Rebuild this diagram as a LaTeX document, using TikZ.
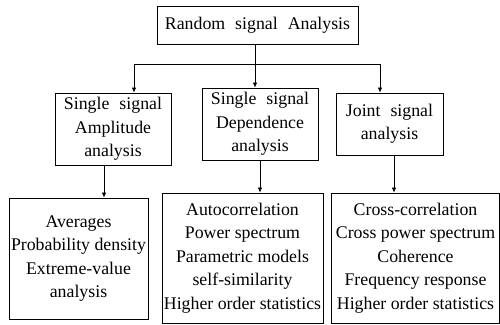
\documentclass[tikz,border=0pt]{standalone}
\usepackage{fontspec}
\setmainfont{Liberation Serif}
\usetikzlibrary{arrows.meta, calc}
\tikzset{
  tree/.style={x=1pt, y=1pt, line width=0.8pt,
               >={Latex[length=5pt, width=4.5pt]},
               font=\fontsize{17.8}{23.4}\selectfont},
  box/.style={draw, align=center, inner sep=0pt},
  wide/.style={box, execute at begin node={\spaceskip=10pt plus 2pt\relax}},
  ar/.style={->}
}
\begin{document}
\begin{tikzpicture}[tree]
    \useasboundingbox (0,0) rectangle (500,324);

    % root
    \node[wide, minimum width=201pt, minimum height=38pt] (root) at (257.5,299)
         {Random signal Analysis};

    % second row
    \node[wide, minimum width=116pt, minimum height=72pt] (amp) at (113,195)
         {Single signal\\Amplitude\\analysis};
    \node[wide, minimum width=116pt, minimum height=72pt] (dep) at (260,200)
         {Single signal\\Dependence\\analysis};
    \node[wide, minimum width=107pt, minimum height=62pt] (joint) at (389.5,200)
         {Joint signal\\analysis};

    % leaves
    \node[box, minimum width=139pt, minimum height=121pt] (ampl) at (78.5,65.5)
         {Averages\\Probability density\\Extreme-value\\analysis};
    \node[box, minimum width=161pt, minimum height=130pt] (depl) at (242.5,66)
         {Autocorrelation\\Power spectrum\\Parametric models\\self-similarity\\Higher order statistics};
    \node[box, minimum width=168pt, minimum height=130pt] (jointl) at (415.5,66)
         {Cross-correlation\\Cross power spectrum\\Coherence\\Frequency response\\Higher order statistics};

    % root to second row
    \coordinate (busL) at (134,260);
    \coordinate (busR) at (380,260);
    \draw (busL) -- (busR);
    \draw[ar] (busL) -- (busL |- amp.north);
    \draw[ar] ([xshift=-2.5pt]root.south) -- ([xshift=-2.5pt]root.south |- dep.north);
    \draw[ar] (busR) -- (busR |- joint.north);

    % second row to leaves
    \draw[ar] ([xshift=-9pt]amp.south) -- ([xshift=-9pt]amp.south |- ampl.north);
    \draw[ar] (dep.south) -- (dep.south |- depl.north);
    \draw[ar] ([xshift=4.5pt]joint.south) -- ([xshift=4.5pt]joint.south |- jointl.north);
\end{tikzpicture}
\end{document}
